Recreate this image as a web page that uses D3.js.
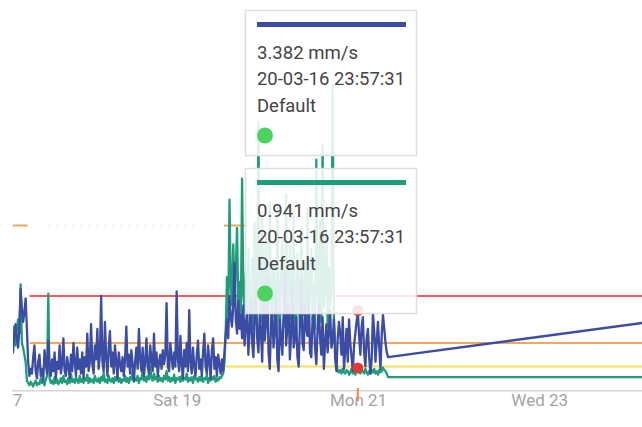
<!DOCTYPE html>
<html>
<head>
<meta charset="utf-8">
<script src="https://cdn.jsdelivr.net/npm/d3@7"></script>
<style>
  html, body { margin: 0; padding: 0; background: #fff; }
  svg { display: block; font-family: Roboto, "Noto Sans", sans-serif; }
</style>
</head>
<body>
<svg id="chart" width="642" height="427"></svg>
<script>
// ---- data ---------------------------------------------------------------
const tickDates = ["2016-03-17T00:00:00", "2016-03-19T00:00:00", "2016-03-21T00:00:00", "2016-03-23T00:00:00"];

// samples every 20 minutes starting at sampleStart (mm/s)
const sampleStart = "2016-03-17T03:57:31";
const sampleStepMinutes = 20;

const velocityBlue = [
  2.3, 1.9, 1.6, 2.4, 2.8, 2.2, 1.8, 2.6, 4.3, 3.5,
  2.9, 3.3, 3.9, 2.6, 1.2, 0.6, 0.9, 0.7, 1.4, 1.9,
  0.8, 0.5, 1.2, 1.5, 0.6, 0.9, 0.4, 1.7, 1.1, 0.7,
  2.1, 1.0, 0.6, 1.3, 0.8, 1.6, 0.5, 1.2, 0.9, 1.9,
  0.7, 1.1, 2.2, 0.8, 0.6, 1.4, 1.0, 0.5, 1.5, 0.8,
  2.0, 1.2, 0.6, 1.8, 0.9, 1.3, 0.7, 1.6, 0.5, 1.4,
  1.0, 2.4, 0.8, 1.2, 2.8, 1.1, 0.7, 1.9, 1.3, 2.6,
  0.9, 1.5, 4.0, 1.2, 0.8, 2.9, 1.4, 0.6, 1.8, 2.5,
  1.0, 1.6, 0.7, 1.9, 1.2, 0.5, 1.6, 1.1, 0.8, 1.4,
  0.6, 1.3, 2.7, 1.0, 1.5, 0.7, 1.7, 1.1, 0.4, 1.2,
  1.8, 0.9, 2.6, 1.3, 0.8, 1.8, 0.6, 1.2, 2.2, 1.0,
  0.7, 1.9, 1.3, 0.8, 2.4, 1.0, 1.6, 0.6, 1.2, 1.5,
  0.9, 1.7, 1.1, 1.5, 3.7, 1.0, 0.8, 2.0, 1.4, 0.9,
  1.6, 1.0, 4.2, 1.3, 0.8, 2.3, 1.1, 0.5, 1.7, 1.0,
  2.0, 0.8, 3.4, 1.2, 0.7, 1.8, 1.0, 0.6, 1.5, 2.1,
  0.9, 1.3, 0.6, 1.6, 2.4, 1.0, 0.7, 1.9, 1.2, 0.5,
  1.7, 2.2, 0.9, 1.4, 0.6, 1.5, 1.1, 0.7, 1.3, 0.8,
  1.6, 2.4, 3.0, 2.2, 4.0, 3.1, 2.7, 3.6, 5.4, 3.0,
  2.4, 3.8, 2.6, 3.2, 2.2, 3.6, 1.9, 2.8, 3.3, 1.5,
  2.6, 3.8, 2.0, 1.4, 3.1, 4.6, 2.2, 1.6, 3.2, 2.5,
  1.2, 3.9, 2.1, 2.8, 4.8, 1.6, 0.9, 2.7, 3.4, 1.8,
  2.5, 4.1, 1.3, 0.8, 3.0, 2.2, 1.5, 3.3, 5.0, 1.9,
  2.7, 3.6, 1.3, 2.4, 4.4, 1.8, 2.2, 3.1, 1.4, 1.0,
  2.9, 4.7, 2.0, 1.7, 3.5, 2.6, 2.3, 4.2, 1.6, 1.4,
  3.0, 3.3, 1.8, 1.1, 2.6, 3.6, 2.2, 1.5, 3.1, 0.9,
  2.0, 2.8, 1.6, 2.5, 3.4, 1.8, 2.1, 3.0, 1.3, 0.8,
  2.2, 2.9, 2.4, 1.5, 3.1, 0.9, 1.7, 2.6, 1.2, 3.0,
  2.0, 1.4, 0.8, 1.9, 2.4, 2.9, 3.382, 2.3, 1.5, 2.7,
  3.1, 1.6, 1.0, 2.2, 2.6, 1.4, 0.7, 1.3, 3.3, 2.5,
  1.2, 2.1, 2.9, 1.8, 0.9, 2.4, 3.2, 2.6, 2.0, 1.6,
  1.4
];

const velocityGreen = [
  2.1, 2.5, 2.7, 2.2, 1.9, 2.6, 3.0, 2.4, 4.5, 2.0,
  1.8, 1.5, 1.2, 0.4, 0.3, 0.2, 0.35, 0.25, 0.15, 0.3,
  0.4, 0.2, 0.3, 0.25, 0.5, 0.3, 0.35, 0.2, 0.45, 0.6,
  4.1, 0.5, 0.3, 0.4, 0.25, 0.55, 0.3, 0.45, 0.25, 0.35,
  0.5, 0.3, 0.6, 0.35, 0.4, 0.25, 0.5, 0.3, 0.7, 0.35,
  0.45, 0.3, 0.55, 0.4, 0.3, 0.6, 0.35, 0.45, 0.3, 0.5,
  0.4, 0.65, 0.3, 0.5, 0.35, 0.45, 0.3, 0.6, 0.4, 0.35,
  0.5, 0.3, 0.55, 0.4, 0.75, 0.35, 0.45, 0.3, 0.6, 0.4,
  0.35, 0.5, 0.3, 0.55, 0.4, 0.65, 0.35, 0.5, 0.3, 0.45,
  0.4, 0.6, 0.35, 0.5, 0.3, 0.55, 0.45, 0.8, 0.35, 0.5,
  0.4, 0.6, 0.3, 0.5, 0.45, 0.9, 0.4, 0.55, 0.35, 0.6,
  0.45, 1.0, 0.5, 0.4, 0.7, 0.45, 0.55, 0.35, 0.6, 0.4,
  0.5, 0.35, 0.6, 0.45, 0.8, 0.4, 0.55, 0.35, 0.5, 0.4,
  0.65, 0.3, 0.5, 0.45, 0.55, 0.35, 0.6, 0.4, 0.5, 0.45,
  0.7, 0.35, 0.5, 0.4, 0.55, 0.3, 0.6, 0.45, 0.5, 0.35,
  0.55, 0.4, 0.6, 0.35, 0.5, 0.45, 0.65, 0.3, 0.5, 0.4,
  0.55, 0.45, 0.6, 0.35, 0.5, 0.4, 0.55, 0.5, 0.6, 0.7,
  1.2, 2.5, 4.8, 3.1, 8.1, 4.5, 3.6, 6.2, 4.0, 5.1,
  6.9, 3.5, 4.6, 2.9, 9.0, 4.2, 3.3, 5.0, 2.8, 6.0,
  3.7, 3.0, 5.6, 2.6, 7.1, 3.4, 4.8, 11.4, 3.5, 2.9,
  7.4, 2.5, 4.4, 6.6, 3.2, 4.0, 8.0, 2.6, 3.9, 5.5,
  3.2, 2.4, 7.8, 3.8, 2.4, 5.2, 6.4, 3.6, 2.7, 8.3,
  2.9, 4.6, 6.1, 3.0, 4.4, 7.5, 3.1, 2.5, 5.8, 3.9,
  2.7, 6.9, 4.0, 3.2, 5.4, 2.8, 7.7, 3.5, 4.2, 6.0,
  3.0, 4.5, 2.6, 9.8, 4.1, 3.4, 7.2, 2.9, 10.4, 3.5,
  4.3, 6.8, 2.7, 5.2, 3.6, 4.4, 13.0, 2.9, 2.0, 1.2,
  0.8, 0.75, 0.85, 0.7, 0.9, 0.75, 0.7, 0.85, 0.8, 0.65,
  0.75, 0.9, 0.7, 0.8, 0.65, 0.85, 0.941, 0.75, 0.7, 0.85,
  0.8, 0.7, 0.9, 0.75, 0.65, 0.8, 0.7, 0.85, 0.75, 0.9,
  0.7, 0.8, 0.65, 0.85, 0.75, 0.8, 0.95, 0.85, 0.8, 0.7,
  0.55
];

// last reading after the gap
const tailTime = "2016-03-24T06:00:00";
const tailBlue = 2.91;
const tailGreen = 0.55;

// alarm levels (mm/s)
const thresholdLevels = [1.0, 2.0, 4.0];
const thresholdColors = ["#f3e25e", "#f4a55e", "#ef5a5c"];
const thresholdFrom = "2016-03-17T09:00:00";
const upperLevel = 7.0;
const upperSpans = [["2016-03-17T00:00:00", "2016-03-17T08:30:00"], ["2016-03-19T12:30:00", "2016-03-19T18:30:00"]];

const seriesColors = { blue: "#3b4ca5", green: "#1f9d79" };
const hoverIndex = 276;
const tooltipTops = [10, 168];
const tooltipSeries = ["blue", "green"];
const tooltipSource = "Default";

// ---- scales -------------------------------------------------------------
const parse = s => new Date(s);
const svg = d3.select("#chart");
const W = 642, baseY = 390, plotLeft = 13;

const x = d3.scaleTime()
  .domain([parse("2016-03-17T00:00:00"), parse(tailTime)])
  .range([-4.4, 652.45]);
const y = d3.scaleLinear().domain([0, 16.6]).range([baseY, 0]);

const t0 = parse(sampleStart).getTime();
const timeAt = i => new Date(t0 + i * sampleStepMinutes * 60000);
const blueData = velocityBlue.map((v, i) => ({ t: timeAt(i), v }))
  .concat([{ t: parse(tailTime), v: tailBlue }]);
const greenData = velocityGreen.map((v, i) => ({ t: timeAt(i), v }))
  .concat([{ t: parse(tailTime), v: tailGreen }]);

const defs = svg.append("defs");
defs.append("clipPath").attr("id", "plot-clip")
  .append("rect").attr("x", plotLeft).attr("y", 0).attr("width", W - plotLeft).attr("height", baseY);
defs.append("clipPath").attr("id", "axis-clip")
  .append("rect").attr("x", plotLeft - 1).attr("y", 0).attr("width", W).attr("height", 427);

const plot = svg.append("g").attr("clip-path", "url(#plot-clip)");

// ---- alarm levels -------------------------------------------------------
thresholdLevels.forEach((lv, k) => {
  plot.append("line")
    .attr("x1", x(parse(thresholdFrom))).attr("x2", W + 10)
    .attr("y1", y(lv)).attr("y2", y(lv))
    .attr("stroke", thresholdColors[k]).attr("stroke-width", 2);
});
upperSpans.forEach(([a, b]) => {
  plot.append("line")
    .attr("x1", x(parse(a))).attr("x2", x(parse(b)))
    .attr("y1", y(upperLevel)).attr("y2", y(upperLevel))
    .attr("stroke", "#f4a55e").attr("stroke-width", 2);
});
plot.append("line")
  .attr("x1", x(parse("2016-03-17T14:00:00"))).attr("x2", x(parse("2016-03-19T06:00:00")))
  .attr("y1", y(upperLevel)).attr("y2", y(upperLevel))
  .attr("stroke", "#d8d8d8").attr("stroke-width", 1.5)
  .attr("stroke-dasharray", "2,6").attr("opacity", 0.6);

// ---- series -------------------------------------------------------------
const line = d3.line().x(d => x(d.t)).y(d => y(d.v));
plot.append("path").datum(greenData).attr("d", line)
  .attr("fill", "none").attr("stroke", seriesColors.green)
  .attr("stroke-width", 2.3).attr("stroke-linejoin", "round");
plot.append("path").datum(blueData).attr("d", line)
  .attr("fill", "none").attr("stroke", seriesColors.blue)
  .attr("stroke-width", 2.3).attr("stroke-linejoin", "round");

// hovered readings
const hoverT = timeAt(hoverIndex);
[velocityBlue[hoverIndex], velocityGreen[hoverIndex]].forEach(v => {
  svg.append("circle").attr("cx", x(hoverT)).attr("cy", y(v)).attr("r", 5.5)
    .attr("fill", "#e53935");
});

// ---- x axis -------------------------------------------------------------
const axisG = svg.append("g")
  .attr("transform", `translate(0,${baseY})`)
  .attr("clip-path", "url(#axis-clip)")
  .call(d3.axisBottom(x)
    .tickValues(tickDates.map(parse))
    .tickFormat(d3.timeFormat("%a %d"))
    .tickSize(0));
axisG.select(".domain").attr("stroke", "#d4d4d4").attr("stroke-width", 2);
axisG.selectAll(".tick text")
  .attr("y", 16).attr("dy", null)
  .attr("fill", "#a3a3a3")
  .style("font-size", "17px")
  .style("font-family", "Roboto, sans-serif");

svg.append("line")
  .attr("x1", x(hoverT)).attr("x2", x(hoverT))
  .attr("y1", baseY - 2).attr("y2", baseY + 11)
  .attr("stroke", "#f0874a").attr("stroke-width", 2);

// ---- tooltips -----------------------------------------------------------
const fmtVal = d3.format(".3f");
const fmtTime = d3.timeFormat("%d-%m-%y %H:%M:%S");
const tipValues = { blue: velocityBlue[hoverIndex], green: velocityGreen[hoverIndex] };

tooltipSeries.forEach((key, k) => {
  const top = tooltipTops[k];
  const g = svg.append("g").attr("transform", `translate(245.5,${top + 0.5})`);
  g.append("rect").attr("width", 171).attr("height", 145)
    .attr("fill", "#fff").attr("fill-opacity", 0.86)
    .attr("stroke", "#dedede").attr("stroke-width", 1.5);
  g.append("rect").attr("x", 11.5).attr("y", 11.5).attr("width", 149).attr("height", 5)
    .attr("fill", seriesColors[key]);
  const rows = [
    [`${fmtVal(tipValues[key])} mm/s`, 101],
    [fmtTime(hoverT), 148],
    [tooltipSource, 59]
  ];
  rows.forEach(([txt, len], r) => {
    g.append("text")
      .attr("x", 11.5).attr("y", 48 + r * 26.5)
      .attr("fill", "#444")
      .style("font-size", "19px")
      .attr("textLength", len).attr("lengthAdjust", "spacingAndGlyphs")
      .text(txt);
  });
  g.append("circle").attr("cx", 19.5).attr("cy", 125).attr("r", 8)
    .attr("fill", "#4cd35e");
});
</script>
</body>
</html>
